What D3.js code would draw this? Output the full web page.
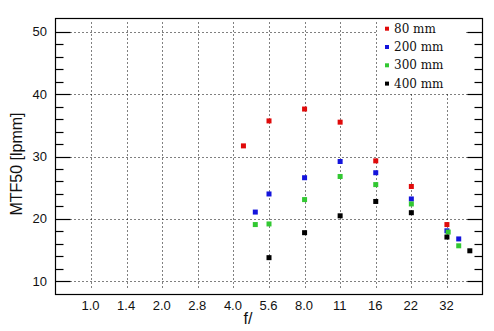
<!DOCTYPE html>
<html>
<head>
<meta charset="utf-8">
<script src="https://cdn.jsdelivr.net/npm/d3@7"></script>
<style>
body { margin: 0; background: #fff; }
svg { display: block; }
</style>
</head>
<body>
<svg width="494" height="331"></svg>
<script>
// f-stops on the axis (exact) and their printed labels
const fStops = [1, 1.414, 2, 2.828, 4, 5.657, 8, 11.31, 16, 22.63, 32];
const fLabels = ['1.0', '1.4', '2.0', '2.8', '4.0', '5.6', '8.0', '11', '16', '22', '32'];
const yTicks = [10, 20, 30, 40, 50];

const seriesNames = ['80 mm', '200 mm', '300 mm', '400 mm'];
const seriesColors = ['#e00a0a', '#1414dc', '#32c832', '#000000'];

const f80 = [4.41, 5.657, 8, 11.31, 16, 22.63, 32];
const v80 = [31.7, 35.7, 37.6, 35.5, 29.3, 25.2, 19.1];
const f200 = [4.95, 5.657, 8, 11.31, 16, 22.63, 32, 35.9];
const v200 = [21.1, 24.0, 26.6, 29.2, 27.4, 23.2, 18.1, 16.8];
const f300 = [4.95, 5.657, 8, 11.31, 16, 22.63, 32.4, 35.9];
const v300 = [19.1, 19.2, 23.1, 26.8, 25.5, 22.4, 17.9, 15.7];
const f400 = [5.657, 8, 11.31, 16, 22.63, 32, 40];
const v400 = [13.8, 17.8, 20.5, 22.8, 21.0, 17.1, 14.9];

const series = [
  { f: f80, v: v80 },
  { f: f200, v: v200 },
  { f: f300, v: v300 },
  { f: f400, v: v400 }
];

const L = 55.5, R = 482.5, T = 18.5, B = 294.5;

const svg = d3.select('svg');

const x = d3.scaleLog().base(2).domain([Math.SQRT1_2, 32 * Math.SQRT2]).range([L, R]);
const y = d3.scaleLinear().domain([7.9, 52.1]).range([B, T]);

// grid
const grid = svg.append('g').attr('stroke', '#000').attr('stroke-width', 1).attr('stroke-dasharray', '1,3');
grid.selectAll('.vg')
  .data(fStops)
  .enter()
  .append('line')
  .attr('x1', d => Math.round(x(d)) + 0.5)
  .attr('x2', d => Math.round(x(d)) + 0.5)
  .attr('y1', T + 4)
  .attr('y2', B - 4);
grid.selectAll('.hg')
  .data(yTicks)
  .enter()
  .append('line')
  .attr('x1', L + 15)
  .attr('x2', R - 15)
  .attr('y1', d => Math.round(y(d)) + 0.5)
  .attr('y2', d => Math.round(y(d)) + 0.5);

// legend background covers the grid
svg.append('rect')
  .attr('x', 377).attr('y', T + 1)
  .attr('width', 89).attr('height', 73)
  .attr('fill', '#fff');

// frame
svg.append('rect')
  .attr('x', L).attr('y', T)
  .attr('width', R - L).attr('height', B - T)
  .attr('fill', 'none').attr('stroke', '#000').attr('stroke-width', 1.2);

// y ticks, left and right, major + minor
const minor = d3.range(12, 50, 2).filter(d => d % 10 !== 0);
const ticks = svg.append('g').attr('stroke', '#000').attr('stroke-width', 1.2);
[[L, 1], [R, -1]].forEach(([x0, dir]) => {
  ticks.selectAll(null)
    .data(yTicks)
    .enter()
    .append('line')
    .attr('x1', x0).attr('x2', x0 + dir * 15)
    .attr('y1', d => Math.round(y(d)) + 0.5)
    .attr('y2', d => Math.round(y(d)) + 0.5);
  ticks.selectAll(null)
    .data(minor)
    .enter()
    .append('line')
    .attr('x1', x0).attr('x2', x0 + dir * 8)
    .attr('y1', d => Math.round(y(d)) + 0.5)
    .attr('y2', d => Math.round(y(d)) + 0.5);
});

// tick labels
const font = 'Liberation Sans, Arial, sans-serif';
svg.append('g')
  .selectAll('text')
  .data(yTicks)
  .enter()
  .append('text')
  .attr('x', 47)
  .attr('y', d => y(d) + 4.5)
  .attr('text-anchor', 'end')
  .attr('font-family', font)
  .attr('font-size', 13)
  .attr('fill', '#111')
  .text(d => d);

svg.append('g')
  .selectAll('text')
  .data(fStops)
  .enter()
  .append('text')
  .attr('x', d => x(d) - 0.5)
  .attr('y', 310)
  .attr('text-anchor', 'middle')
  .attr('font-family', font)
  .attr('font-size', 13)
  .attr('fill', '#111')
  .text((d, i) => fLabels[i]);

// axis titles
svg.append('text')
  .attr('x', 248).attr('y', 324)
  .attr('text-anchor', 'middle')
  .attr('font-family', font).attr('font-size', 16).attr('fill', '#111')
  .text('f/');

svg.append('text')
  .attr('transform', 'translate(22,164) rotate(-90)')
  .attr('text-anchor', 'middle')
  .attr('font-family', font).attr('font-size', 16).attr('fill', '#111')
  .text('MTF50 [lpmm]');

// points
const S = 5;
series.forEach((s, i) => {
  svg.append('g')
    .selectAll('rect')
    .data(s.f.map((f, j) => ({ f: f, v: s.v[j] })))
    .enter()
    .append('rect')
    .attr('x', d => x(d.f) - S / 2)
    .attr('y', d => y(d.v) - S / 2)
    .attr('width', S)
    .attr('height', S)
    .attr('fill', seriesColors[i]);
});

// legend
const leg = svg.append('g')
  .selectAll('g')
  .data(seriesNames)
  .enter()
  .append('g')
  .attr('transform', (d, i) => `translate(387, ${28.7 + i * 18.3})`);
leg.append('rect')
  .attr('x', -2).attr('y', -2).attr('width', 4).attr('height', 4)
  .attr('fill', (d, i) => seriesColors[i]);
leg.append('text')
  .attr('x', 7).attr('y', 4)
  .attr('font-family', 'DejaVu Serif, serif')
  .attr('font-size', 12)
  .attr('fill', '#111')
  .text(d => d);
</script>
</body>
</html>
